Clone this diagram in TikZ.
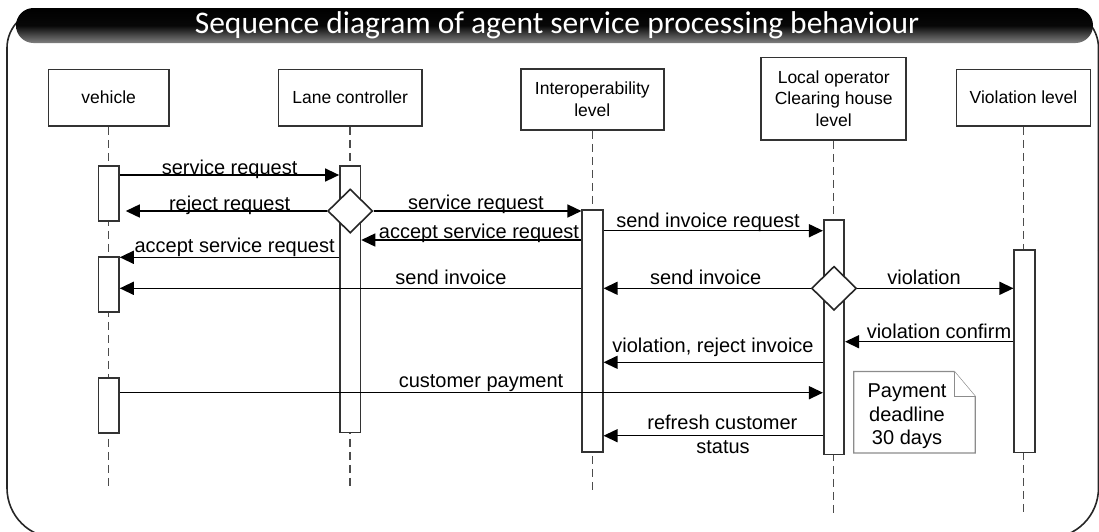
\documentclass[tikz,border=0pt]{standalone}
\usepackage{fontspec}
\setmainfont{Liberation Sans}
\newfontfamily\titlefont{Carlito}
\usetikzlibrary{arrows.meta,shapes.geometric,calc}
\begin{document}
\begin{tikzpicture}[x=1pt,y=-1pt,
  frame/.style={draw=black!85, line width=1.6pt},
  lifebox/.style={draw=black!80, line width=1.6pt, fill=white, align=center, font=\fontsize{17.5}{21.5}\selectfont, inner sep=0pt},
  act/.style={draw=black!80, line width=1.6pt, fill=white, minimum width=20.5pt, inner sep=0pt},
  lifeline/.style={draw=black!70, line width=1.5pt, dash pattern=on 8pt off 5pt},
  msg/.style={draw=black, line width=1.4pt, -{Triangle[length=14pt,width=13pt]}},
  lbl/.style={font=\fontsize{20}{23.5}\selectfont, anchor=base, inner sep=0pt},
  decision/.style={diamond, draw=black!85, line width=1.6pt, fill=white, minimum width=45pt, minimum height=44pt, inner sep=0pt},
  notebox/.style={draw=black!45, line width=1.3pt, fill=white},
]
\path[use as bounding box] (0,0) rectangle (1099,531);
\clip (0,0) rectangle (1099,531);

% outer frame
\draw[frame, rounded corners=50pt] (560,538) -- (7,538) -- (7,250);
\draw[frame, rounded corners=38pt] (7,250) -- (7,10) -- (560,10);
\draw[frame, rounded corners=38pt] (560,10) -- (1098.5,10) -- (1098.5,250);
\draw[frame, rounded corners=50pt] (1098.5,250) -- (1098.5,538) -- (560,538);

% title bar
\shade[top color=black, bottom color=black!50, middle color=black!97, rounded corners=17.5pt] (16,8) rectangle (1093,43);
\node[font=\titlefont\fontsize{31.5}{37}\selectfont, text=white, inner sep=0pt] (title) at (557,25.5) {Sequence diagram of agent service processing behaviour};

% lifeline heads
\node[lifebox, minimum width=120.7pt, minimum height=56.7pt] (bv) at (108.7,97.7) {vehicle};
\node[lifebox, minimum width=143.2pt, minimum height=56.7pt] (bl) at (350.2,97.7) {Lane controller};
\node[lifebox, minimum width=143pt, minimum height=61.3pt] (bi) at (592.3,99.4) {Interoperability\\level};
\node[lifebox, minimum width=145pt, minimum height=82.7pt] (bo) at (833.7,98.7) {Local operator\\Clearing house\\level};
\node[lifebox, minimum width=134pt, minimum height=56.7pt] (bx) at (1023.5,97.7) {Violation level};

% lifelines
\draw[lifeline] (bv.south) -- (bv.south |- 0,486.7);
\draw[lifeline] (bl.south) -- (bl.south |- 0,486.7);
\draw[lifeline] (bi.south) -- (bi.south |- 0,490.7);
\draw[lifeline] (bo.south) -- (bo.south |- 0,512.7);
\draw[lifeline] (bx.south) -- (bx.south |- 0,513);

% activations
\node[act, minimum height=54.7pt] (v1) at (108.7,193.35) {};
\node[act, minimum height=55pt] (v2) at (108.7,284.2) {};
\node[act, minimum height=55pt] (v3) at (108.7,405.2) {};
\node[act, minimum height=266.3pt] (la) at (350.2,299.15) {};
\node[act, minimum height=241.7pt] (ia) at (592.5,330.85) {};
\node[act, minimum height=234.3pt] (oa) at (834,337.15) {};
\node[act, minimum height=202.5pt] (xa) at (1024.5,351.25) {};

% decisions
\node[decision] (d1) at (350.2,211) {};
\node[decision] (d2) at (834,288.3) {};

% messages
\draw[msg] (v1.east |- 0,175) -- (la.west |- 0,175);
\draw[msg, shorten >=6pt] (d1.west) -- (v1.east |- d1.west);
\draw[msg] (d1.east) -- (ia.west |- d1.east);
\draw[msg] (ia.west |- 0,240) -- (la.east |- 0,240);
\draw[msg] (la.west |- 0,257.3) -- (v2.east |- 0,257.3);
\draw[msg] (ia.west |- 0,288.3) -- (v2.east |- 0,288.3);
\draw[msg] (ia.east |- 0,230.7) -- (oa.west |- 0,230.7);
\draw[msg] (d2.west) -- (ia.east |- d2.west);
\draw[msg] (d2.east) -- (xa.west |- d2.east);
\draw[msg] (xa.west |- 0,341.7) -- (oa.east |- 0,341.7);
\draw[msg] (oa.west |- 0,362.3) -- (ia.east |- 0,362.3);
\draw[msg] (v3.east |- 0,392.7) -- (oa.west |- 0,392.7);
\draw[msg] (oa.west |- 0,435.7) -- (ia.east |- 0,435.7);

% labels
\node[lbl] (l1) at (229.6,174) {service request};
\node[lbl] (l2) at (229.6,210) {reject request};
\node[lbl] (l3) at (476,209.7) {service request};
\node[lbl] (l4) at (479,238.7) {accept service request};
\node[lbl] (l5) at (234.6,252.7) {accept service request};
\node[lbl] (l6) at (451,284.7) {send invoice};
\node[lbl] (l7) at (708,227) {send invoice request};
\node[lbl] (l8) at (705.6,284.7) {send invoice};
\node[lbl] (l9) at (924,284.7) {violation};
\node[lbl] (l10) at (939,338.7) {violation confirm};
\node[lbl] (l11) at (713,352) {violation, reject invoice};
\node[lbl] (l12) at (481,387) {customer payment};
\node[lbl] (l13) at (722.4,429.3) {refresh customer};
\node[lbl] (l14) at (723,453) {status};

% note
\node[minimum width=121pt, minimum height=81pt, inner sep=0pt] (note) at (914.5,412.2) {};
\draw[notebox] (note.north west) -- ($(note.north east)+(-21,0)$) -- ($(note.north east)+(0,25)$) -- (note.south east) -- (note.south west) -- cycle;
\draw[notebox] ($(note.north east)+(-21,0)$) -- ($(note.north east)+(-21,25)$) -- ($(note.north east)+(0,25)$);
\node[align=center, font=\fontsize{20}{23.5}\selectfont, inner sep=0pt] (notetext) at (907,416.5) {Payment\\deadline\\30 days};
\end{tikzpicture}
\end{document}
